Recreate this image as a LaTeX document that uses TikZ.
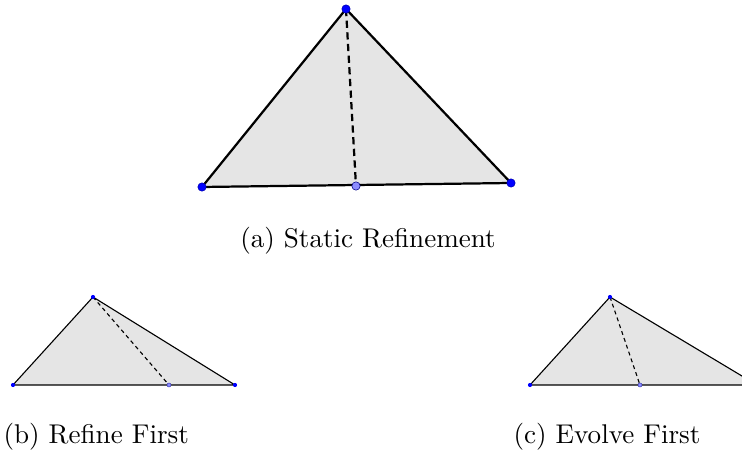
\documentclass[tikz,border=0pt]{standalone}
\usepackage{tikz}
\usetikzlibrary{positioning}

\begin{document}
\begin{tikzpicture}[x=0.36pt, y=-0.36pt,
    face/.style={
        fill=black!10
    },
    edgebig/.style={
        line width=0.8pt,
        line join=round
    },
    edgesmall/.style={
        line width=0.4pt,
        line join=round
    },
    bisectbig/.style={
        dashed,
        dash pattern=on 2.6pt off 1.6pt,
        line width=0.8pt
    },
    bisectsmall/.style={
        dash pattern=on 1.4pt off 1.2pt,
        line width=0.4pt
    },
    vertbig/.style={
        circle,
        fill=blue,
        draw=blue!70!black,
        line width=0.2pt,
        inner sep=0pt,
        minimum size=3pt
    },
    vertsmall/.style={
        circle,
        fill=blue,
        inner sep=0pt,
        minimum size=1.5pt
    },
    midbig/.style={
        circle,
        fill=blue!45,
        draw=blue!50!black,
        line width=0.2pt,
        inner sep=0pt,
        minimum size=3pt
    },
    midsmall/.style={
        circle,
        fill=blue!45,
        draw=blue!50!black,
        line width=0.1pt,
        inner sep=0pt,
        minimum size=1.5pt
    },
    caption/.style={
        inner sep=0pt,
        font=\fontsize{9.75}{12}\selectfont
    }
]

\clip (0,0) rectangle (742,458);

% =====================
% (a) Static Refinement
% =====================

\coordinate (aTop) at (346,9);
\coordinate (aLeft) at (202,187);
\coordinate (aRight) at (511,183);
\coordinate (aMid) at (356,186);

\fill[face] (aTop) -- (aLeft) -- (aRight) -- cycle;
\draw[edgebig] (aTop) -- (aLeft) -- (aRight) -- cycle;
\draw[bisectbig] (aTop) -- (aMid);

\node[vertbig] (aTopDot) at (aTop) {};
\node[vertbig] (aLeftDot) at (aLeft) {};
\node[vertbig] (aRightDot) at (aRight) {};
\node[midbig] (aMidDot) at (aMid) {};

\node[caption] (capA) at (368,241) {(a) Static Refinement};

% =====================
% (b) Refine First
% =====================

\coordinate (bTop) at (93,297);
\coordinate (bLeft) at (13,385);
\coordinate (bRight) at (235,385);
\coordinate (bMid) at (169,385);

\fill[face] (bTop) -- (bLeft) -- (bRight) -- cycle;
\draw[edgesmall] (bTop) -- (bLeft) -- (bRight) -- cycle;
\draw[bisectsmall] (bTop) -- (bMid);

\node[vertsmall] (bTopDot) at (bTop) {};
\node[vertsmall] (bLeftDot) at (bLeft) {};
\node[vertsmall] (bRightDot) at (bRight) {};
\node[midsmall] (bMidDot) at (bMid) {};

\node[caption, anchor=west] (capB) at (3,437) {(b) Refine First};

% =====================
% (c) Evolve First
% =====================

\coordinate (cTop) at (610,297);
\coordinate (cLeft) at (530,385);
\coordinate (cRight) at (757,385);
\coordinate (cMid) at (640,385);

\fill[face] (cTop) -- (cLeft) -- (cRight) -- cycle;
\draw[edgesmall] (cTop) -- (cLeft) -- (cRight) -- cycle;
\draw[bisectsmall] (cTop) -- (cMid);

\node[vertsmall] (cTopDot) at (cTop) {};
\node[vertsmall] (cLeftDot) at (cLeft) {};
\node[midsmall] (cMidDot) at (cMid) {};

\node[caption] (capC) at (607,437) {(c) Evolve First};

\end{tikzpicture}
\end{document}
